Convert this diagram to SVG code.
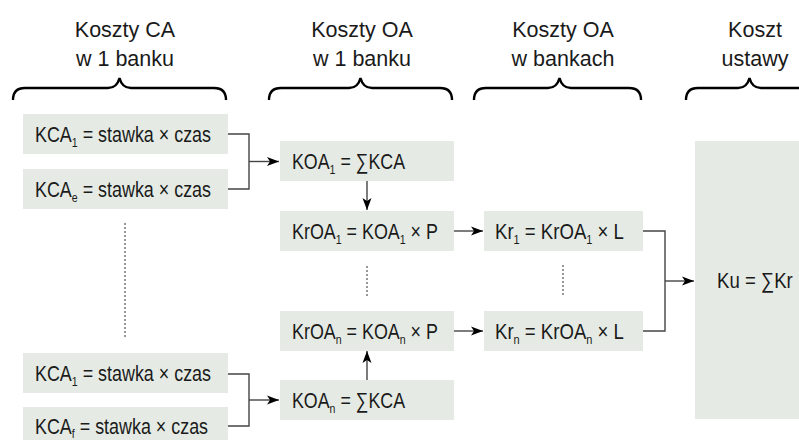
<svg xmlns="http://www.w3.org/2000/svg" width="799" height="440" viewBox="0 0 799 440">
<defs>
<marker id="ah" markerWidth="13" markerHeight="10" refX="12" refY="5" orient="auto" markerUnits="userSpaceOnUse">
<path d="M0,0.5 L12,5 L0,9.5 L3,5 Z" fill="#000"/>
</marker>
<style>
.box{fill:#e5ebe4}
.t{font-family:"Liberation Sans",Arial,sans-serif;font-size:22px;fill:#1a1a1a}
.s{font-size:13px}
.h{font-family:"Liberation Sans",Arial,sans-serif;font-size:21.5px;fill:#1a1a1a;text-anchor:middle}
.br{fill:none;stroke:#000;stroke-width:2.4}
.ln{fill:none;stroke:#444;stroke-width:1.4}
.ar{fill:none;stroke:#444;stroke-width:1.4;marker-end:url(#ah)}
.dot{fill:none;stroke:#333;stroke-width:1;stroke-dasharray:2,2}
</style>
</defs>

<g id="headers">
<text class="h" x="125" y="37">Koszty CA</text>
<text class="h" x="125" y="66">w 1 banku</text>
<text class="h" x="362" y="37">Koszty OA</text>
<text class="h" x="362" y="66">w 1 banku</text>
<text class="h" x="563" y="37">Koszty OA</text>
<text class="h" x="563" y="66">w bankach</text>
<text class="h" x="755" y="37">Koszt</text>
<text class="h" x="755" y="66">ustawy</text>
<path class="br" d="M13,100 Q13,88 25,88 L108,88 Q117,88 119.5,78 Q122,88 131,88 L214,88 Q226,88 226,100"/>
<path class="br" d="M269,100 Q269,88 281,88 L349,88 Q358,88 360.5,78 Q363,88 372,88 L440,88 Q452,88 452,100"/>
<path class="br" d="M474,100 Q474,88 486,88 L548,88 Q557,88 559.5,78 Q562,88 571,88 L629,88 Q641,88 641,100"/>
<path class="br" d="M686,100 Q686,88 698,88 L738,88 Q747,88 749.5,78 Q752,88 761,88 L801,88 Q813,88 813,100"/>
</g>

<g id="kca1a">
<rect class="box" x="23" y="114" width="205" height="40"/>
<text class="t" transform="translate(35,142) scale(0.814,1)">KCA<tspan class="s" dy="5">1</tspan><tspan dy="-5"> = stawka × czas</tspan></text>
</g>
<g id="kcae">
<rect class="box" x="23" y="169" width="205" height="40"/>
<text class="t" transform="translate(35,197) scale(0.814,1)">KCA<tspan class="s" dy="5">e</tspan><tspan dy="-5"> = stawka × czas</tspan></text>
</g>
<g id="kca1b">
<rect class="box" x="23" y="353" width="205" height="40"/>
<text class="t" transform="translate(35,381) scale(0.814,1)">KCA<tspan class="s" dy="5">1</tspan><tspan dy="-5"> = stawka × czas</tspan></text>
</g>
<g id="kcaf">
<rect class="box" x="23" y="407" width="205" height="40"/>
<text class="t" transform="translate(35,434) scale(0.814,1)">KCA<tspan class="s" dy="4">f</tspan><tspan dy="-4"> = stawka × czas</tspan></text>
</g>

<g id="koa1">
<rect class="box" x="280" y="141" width="174" height="40"/>
<text class="t" transform="translate(292,169) scale(0.81,1)">KOA<tspan class="s" dy="5">1</tspan><tspan dy="-5"> = ∑KCA</tspan></text>
</g>
<g id="kroa1">
<rect class="box" x="280" y="211" width="174" height="40"/>
<text class="t" transform="translate(292,239) scale(0.813,1)">KrOA<tspan class="s" dy="5">1</tspan><tspan dy="-5"> = KOA</tspan><tspan class="s" dy="5">1</tspan><tspan dy="-5"> × P</tspan></text>
</g>
<g id="kroan">
<rect class="box" x="280" y="311" width="174" height="40"/>
<text class="t" transform="translate(292,339) scale(0.813,1)">KrOA<tspan class="s" dy="5">n</tspan><tspan dy="-5"> = KOA</tspan><tspan class="s" dy="5">n</tspan><tspan dy="-5"> × P</tspan></text>
</g>
<g id="koan">
<rect class="box" x="280" y="380" width="174" height="40"/>
<text class="t" transform="translate(292,408) scale(0.81,1)">KOA<tspan class="s" dy="5">n</tspan><tspan dy="-5"> = ∑KCA</tspan></text>
</g>

<g id="kr1">
<rect class="box" x="484" y="211" width="159" height="40"/>
<text class="t" transform="translate(495,239) scale(0.845,1)">Kr<tspan class="s" dy="5">1</tspan><tspan dy="-5"> = KrOA</tspan><tspan class="s" dy="5">1</tspan><tspan dy="-5"> × L</tspan></text>
</g>
<g id="krn">
<rect class="box" x="484" y="311" width="159" height="40"/>
<text class="t" transform="translate(495,339) scale(0.845,1)">Kr<tspan class="s" dy="5">n</tspan><tspan dy="-5"> = KrOA</tspan><tspan class="s" dy="5">n</tspan><tspan dy="-5"> × L</tspan></text>
</g>

<g id="ku">
<rect class="box" x="695" y="141" width="104" height="278"/>
<text class="t" transform="translate(717,288) scale(0.845,1)">Ku = ∑Kr</text>
</g>

<g id="connectors">
<path class="ln" d="M228,134 H249 V189 H228"/>
<path class="ar" d="M249,161.5 H279"/>
<path class="ln" d="M228,374 H249 V426 H228"/>
<path class="ar" d="M249,400 H279"/>
<path class="ar" d="M367,181 V210"/>
<path class="ar" d="M367,380 V351"/>
<path class="ar" d="M454,231 H483"/>
<path class="ar" d="M454,331 H483"/>
<path class="ln" d="M643,231 H665 V331 H643"/>
<path class="ar" d="M665,281 H694"/>
<path class="dot" d="M125,223 V337"/>
<path class="dot" d="M367,266 V297"/>
<path class="dot" d="M563,265 V296"/>
</g>
</svg>
